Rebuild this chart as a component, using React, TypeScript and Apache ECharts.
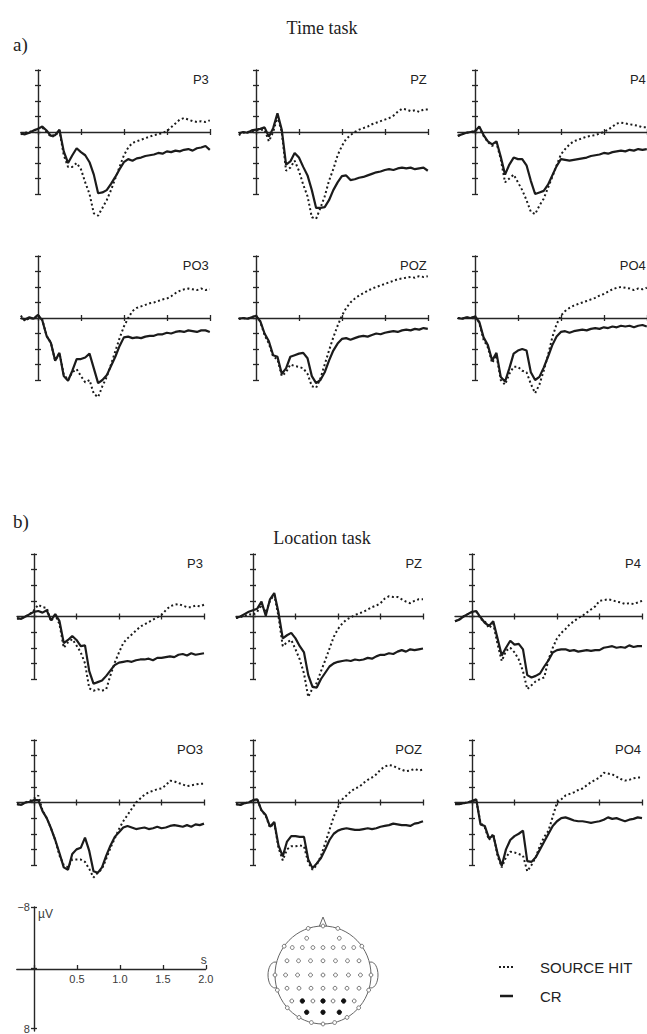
import React, { useEffect, useRef } from "react";
import * as echarts from "echarts";

// time points (s)
const TIME = [-0.2,-0.15,-0.1,-0.05,0,0.05,0.1,0.15,0.2,0.25,0.3,0.35,0.4,0.45,0.5,0.55,0.6,0.65,0.7,0.75,0.8,0.85,0.9,0.95,1.0,1.05,1.1,1.15,1.2,1.25,1.3,1.35,1.4,1.45,1.5,1.55,1.6,1.65,1.7,1.75,1.8,1.85,1.9,1.95,2.0];
const CHANNELS = ["P3", "PZ", "P4", "PO3", "POZ", "PO4"];
const SERIES_NAMES = ["SOURCE HIT", "CR"];

// Time task (µV, negative up)
const TIME_P3_CR = [0.2,0.3,0.1,-0.2,-0.4,-0.7,-0.2,0.5,0.4,-0.3,2.5,4.0,3.0,2.1,2.6,3.0,3.9,5.5,7.9,7.8,7.5,6.7,5.8,4.8,3.9,3.5,3.7,3.4,3.3,3.1,3.0,2.9,2.7,2.8,2.5,2.6,2.4,2.5,2.3,2.2,2.4,2.1,2.0,1.8,2.3];
const TIME_P3_SH = [0.3,0.1,0.0,-0.2,-0.5,-0.6,0.0,0.6,0.5,-0.2,3.0,4.5,4.5,4.0,4.8,6.5,8.0,10.5,10.8,9.8,8.8,7.5,6.0,4.5,3.0,2.0,1.4,1.2,1.0,0.8,0.6,0.4,0.3,0.1,-0.1,-0.6,-1.1,-1.6,-1.8,-1.6,-1.4,-1.3,-1.4,-1.3,-1.5];
const TIME_PZ_CR = [0.2,0.0,0.1,-0.2,-0.3,-0.4,-0.6,0.6,-0.5,-2.4,-0.3,4.2,3.8,2.7,3.3,4.5,5.6,7.5,9.8,9.8,9.7,8.8,7.5,6.5,5.7,5.6,6.2,6.1,5.9,5.8,5.6,5.4,5.2,5.1,4.9,4.8,4.9,4.7,4.6,4.7,4.6,4.8,4.7,4.6,5.0];
const TIME_PZ_SH = [0.4,0.1,0.0,-0.1,-0.2,-0.3,-0.3,1.2,0.0,-2.0,0.0,5.0,4.6,3.7,5.0,6.8,8.3,11.0,11.2,9.8,8.3,6.3,4.8,3.0,1.8,0.9,0.4,0.0,-0.3,-0.5,-0.7,-1.0,-1.2,-1.4,-1.6,-1.8,-2.1,-2.6,-3.0,-2.9,-2.7,-2.8,-2.6,-2.9,-2.9];
const TIME_P4_CR = [0.5,0.3,0.1,0.0,-0.1,-0.7,0.4,1.2,1.6,1.2,3.2,5.5,4.2,3.3,3.5,3.5,4.3,6.3,8.0,7.8,7.6,6.8,5.6,4.4,3.5,3.6,3.7,3.6,3.5,3.4,3.3,3.1,3.0,2.9,2.7,2.8,2.6,2.5,2.4,2.5,2.3,2.4,2.2,2.3,2.2];
const TIME_P4_SH = [0.5,0.3,0.1,0.0,-0.1,-0.6,0.5,1.3,1.8,1.4,3.5,6.5,6.0,5.5,6.5,7.5,8.8,10.3,10.6,9.5,8.6,7.2,5.8,4.3,2.9,2.2,1.6,1.2,1.0,0.8,0.6,0.5,0.4,0.2,0.0,-0.3,-0.7,-1.1,-1.2,-1.1,-1.0,-0.9,-0.8,-0.6,-0.6];
const TIME_PO3_CR = [0.0,0.2,-0.1,0.1,-0.4,0.3,2.3,3.2,5.5,4.5,7.5,8.1,6.8,5.3,5.3,5.1,4.6,6.5,8.4,8.0,7.4,6.2,5.0,3.6,2.5,2.4,2.6,2.5,2.6,2.4,2.3,2.3,2.1,2.1,1.9,2.0,1.8,1.7,1.8,1.6,1.7,1.8,1.6,1.6,1.8];
const TIME_PO3_SH = [-0.3,0.4,0.0,0.1,-0.4,0.2,2.3,3.2,5.5,4.5,7.3,8.0,7.0,6.6,7.5,8.3,8.0,9.8,10.2,8.8,7.6,6.0,4.3,2.6,1.1,0.0,-0.9,-1.3,-1.5,-1.7,-1.9,-2.0,-2.2,-2.4,-2.5,-2.8,-3.2,-3.5,-3.7,-3.8,-3.7,-3.6,-3.8,-3.6,-3.7];
const TIME_POZ_CR = [0.1,0.0,0.1,-0.1,-0.3,0.4,2.0,3.0,4.8,5.0,7.2,6.5,5.0,4.8,4.6,4.5,5.2,7.5,8.4,8.0,7.0,5.5,4.2,3.3,2.7,2.6,2.8,2.6,2.4,2.3,2.4,2.2,2.0,2.1,1.9,1.8,1.7,1.8,1.6,1.5,1.6,1.4,1.5,1.3,1.4];
const TIME_POZ_SH = [0.1,0.0,0.1,-0.1,-0.3,0.5,2.2,3.3,5.0,5.3,7.5,7.0,6.0,6.2,6.3,6.5,7.2,8.8,9.0,7.8,6.0,4.2,2.5,1.0,-0.3,-1.3,-2.0,-2.5,-2.9,-3.2,-3.5,-3.8,-4.0,-4.2,-4.4,-4.6,-4.8,-5.0,-5.1,-5.2,-5.3,-5.2,-5.4,-5.3,-5.4];
const TIME_PO4_CR = [0.0,0.1,-0.1,0.0,-0.2,0.5,2.5,3.5,5.5,4.5,7.6,8.2,6.5,4.6,4.2,4.0,4.2,7.0,8.0,7.6,6.4,5.0,3.5,2.4,1.8,1.7,1.9,1.7,1.6,1.5,1.6,1.4,1.3,1.4,1.2,1.3,1.1,1.2,1.0,1.1,1.0,1.2,1.0,0.9,1.1];
const TIME_PO4_SH = [0.0,0.1,-0.1,0.0,-0.2,0.6,2.8,3.8,5.8,4.8,8.0,8.6,7.2,6.3,6.3,6.8,7.0,8.5,9.7,8.6,6.8,4.8,2.5,0.8,-0.3,-0.9,-1.3,-1.6,-1.8,-2.0,-2.2,-2.4,-2.6,-2.9,-3.1,-3.4,-3.7,-3.9,-4.0,-3.9,-3.8,-3.6,-3.8,-3.7,-3.9];

// Location task
const LOC_P3_CR = [0.2,0.3,0.0,-0.3,-0.6,-0.7,-0.5,-0.8,0.5,-0.3,0.6,3.4,3.0,2.5,3.0,3.8,3.7,7.0,8.6,8.4,8.2,7.6,6.9,6.2,5.9,5.8,5.7,5.8,5.6,5.5,5.5,5.4,5.6,5.3,5.3,5.2,5.1,5.2,4.9,4.8,5.0,4.7,4.9,4.8,4.7];
const LOC_P3_SH = [0.3,0.2,0.0,-0.3,-0.8,-1.5,-1.2,-1.1,0.6,-0.2,1.0,4.0,3.3,2.9,3.7,4.6,6.0,9.2,9.5,9.3,9.5,9.3,7.5,5.9,4.6,3.4,2.8,2.3,1.8,1.3,1.0,0.7,0.4,0.1,-0.2,-0.8,-1.3,-1.5,-1.6,-1.4,-1.2,-1.2,-1.4,-1.3,-1.5];
const LOC_PZ_CR = [0.2,0.0,-0.3,-0.6,-0.8,-1.0,-1.9,-0.1,-2.2,-3.0,-0.5,2.8,2.4,2.1,2.8,3.8,4.6,7.5,9.0,9.1,8.0,7.2,6.4,6.0,5.8,5.7,5.6,5.7,5.5,5.6,5.5,5.3,5.4,5.1,4.9,4.9,4.7,4.8,4.5,4.3,4.5,4.2,4.3,4.2,4.1];
const LOC_PZ_SH = [0.2,0.1,-0.1,-0.3,-0.2,-0.6,-1.5,-0.5,-2.0,-2.8,0.0,3.8,3.3,3.0,4.2,5.5,7.3,10.3,9.2,8.5,7.0,5.6,4.1,2.6,1.6,0.9,0.4,0.1,-0.2,-0.4,-0.6,-0.9,-1.2,-1.4,-1.7,-2.3,-2.6,-2.5,-2.5,-2.2,-1.9,-1.7,-2.0,-2.2,-2.2];
const LOC_P4_CR = [0.6,0.4,0.0,-0.3,-0.6,-0.7,0.1,0.8,1.2,0.6,2.8,5.0,4.0,3.1,3.6,3.5,4.2,7.5,7.8,7.6,7.3,6.4,5.6,4.6,4.3,4.2,4.2,4.4,4.3,4.5,4.4,4.3,4.4,4.3,4.3,4.0,3.9,3.8,4.0,3.9,4.0,3.7,3.9,3.8,3.8];
const LOC_P4_SH = [0.6,0.4,0.0,-0.3,-0.5,-0.6,0.3,0.6,1.5,0.9,3.5,5.7,4.4,4.0,4.6,5.5,7.0,9.3,8.8,8.3,8.0,7.8,5.5,4.0,2.8,2.1,1.6,1.0,0.6,0.2,-0.1,-0.5,-0.9,-1.3,-2.0,-2.1,-2.2,-2.1,-1.9,-1.8,-1.6,-1.7,-1.6,-1.8,-2.0];
const LOC_PO3_CR = [0.2,0.3,0.0,-0.1,-0.3,-0.3,1.1,2.0,3.3,4.8,6.5,8.3,8.6,6.6,6.0,5.8,4.5,6.2,8.8,9.0,8.3,6.8,5.5,4.4,3.8,3.2,3.0,3.2,3.4,3.3,3.2,3.4,3.3,3.1,3.3,3.2,3.0,2.9,3.0,3.1,2.9,3.1,2.8,2.9,2.7];
const LOC_PO3_SH = [0.2,0.3,0.0,-0.2,-0.5,-0.9,1.0,2.0,3.3,4.8,6.8,8.0,8.3,7.3,7.3,7.3,7.6,8.5,9.6,9.0,8.5,7.2,5.8,4.6,3.4,2.4,1.6,0.8,0.0,-0.5,-1.0,-1.3,-1.5,-1.7,-1.8,-2.2,-2.8,-2.7,-2.5,-2.3,-2.1,-2.2,-2.3,-2.4,-2.4];
const LOC_POZ_CR = [0.2,0.3,0.1,0.0,-0.3,-0.4,1.0,1.6,3.1,2.5,5.5,6.9,5.0,4.3,4.3,4.4,4.4,7.3,8.4,7.8,7.1,6.0,4.8,4.0,3.6,3.4,3.3,3.4,3.5,3.5,3.4,3.3,3.4,3.3,3.1,3.0,2.9,2.7,2.8,2.9,2.9,3.0,2.7,2.6,2.4];
const LOC_POZ_SH = [0.2,0.3,0.1,0.0,-0.3,-0.4,1.0,1.7,3.2,2.6,5.8,7.4,6.0,5.6,5.6,5.5,5.6,7.7,8.6,8.0,6.8,5.2,3.5,1.8,0.6,-0.4,-0.9,-1.4,-1.8,-2.0,-2.5,-2.9,-3.2,-3.6,-4.2,-4.6,-4.8,-4.7,-4.4,-4.2,-4.0,-4.1,-4.3,-4.1,-4.2];
const LOC_PO4_CR = [0.2,0.2,0.1,0.0,-0.2,-0.4,2.8,3.0,4.6,4.2,6.5,8.1,6.0,4.8,4.3,4.0,3.6,7.5,7.6,7.0,6.0,5.0,4.0,3.0,2.4,2.0,1.9,2.1,2.3,2.4,2.4,2.5,2.6,2.5,2.4,2.2,1.9,2.1,2.0,2.2,2.4,2.2,2.1,1.9,2.0];
const LOC_PO4_SH = [0.2,0.2,0.1,0.0,-0.2,-0.3,2.6,3.2,4.8,4.0,6.8,8.3,7.0,6.3,6.4,6.6,6.8,8.8,8.0,7.0,5.5,4.4,3.6,1.8,0.0,-0.4,-0.9,-1.1,-1.3,-1.6,-1.8,-2.2,-2.6,-2.9,-3.2,-3.8,-3.7,-3.6,-3.3,-3.0,-2.8,-2.9,-3.1,-3.2,-3.2];

const TIME_SH = [TIME_P3_SH, TIME_PZ_SH, TIME_P4_SH, TIME_PO3_SH, TIME_POZ_SH, TIME_PO4_SH];
const TIME_CR = [TIME_P3_CR, TIME_PZ_CR, TIME_P4_CR, TIME_PO3_CR, TIME_POZ_CR, TIME_PO4_CR];
const LOC_SH = [LOC_P3_SH, LOC_PZ_SH, LOC_P4_SH, LOC_PO3_SH, LOC_POZ_SH, LOC_PO4_SH];
const LOC_CR = [LOC_P3_CR, LOC_PZ_CR, LOC_P4_CR, LOC_PO3_CR, LOC_POZ_CR, LOC_PO4_CR];

// Electrode layout (normalized head coords)
const ELEC_OPEN: number[][] = [
  [-0.34, -0.75], [0.34, -0.75],
  [-0.64, -0.56], [-0.43, -0.56], [-0.21, -0.56], [0, -0.56], [0.21, -0.56], [0.43, -0.56], [0.64, -0.56],
  [-0.75, -0.29], [-0.51, -0.29], [-0.26, -0.29], [0, -0.29], [0.26, -0.29], [0.51, -0.29], [0.75, -0.29],
  [-0.78, 0], [-0.53, 0], [-0.26, 0], [0, 0], [0.26, 0], [0.53, 0], [0.78, 0],
  [-0.75, 0.27], [-0.5, 0.27], [-0.25, 0.27], [0, 0.27], [0.25, 0.27], [0.5, 0.27], [0.75, 0.27],
  [-0.65, 0.53], [-0.21, 0.53], [0.21, 0.53], [0.65, 0.53],
];
const ELEC_FILLED: number[][] = [
  [-0.43, 0.53], [0, 0.53], [0.43, 0.53],
  [-0.34, 0.76], [0, 0.76], [0.34, 0.76],
];
const PERIM_ANGLES = [-90, -72, -36, 0, 18, 42, 60, 76, 90, 104, 120, 138, 162, 180, 216, 252];

const BLACK = "#1b1b1b";
const AXIS = "#262626";
const LABEL = "#3a3a3a";

function buildOption() {
  const grids: any[] = [];
  const xAxes: any[] = [];
  const yAxes: any[] = [];
  const series: any[] = [];
  const graphics: any[] = [];

  const lineSt = { color: AXIS, width: 1.4 };
  const tickSt = { color: AXIS, width: 1.3 };
  const labelFont = { fontFamily: "Liberation Sans", fontSize: 11, color: LABEL };

  const emptySeries = (xi: number, yi: number) =>
    series.push({ type: "line", xAxisIndex: xi, yAxisIndex: yi, data: [], silent: true });

  const addPanel = (left: number, top: number, w: number, h: number, isScale: boolean) => {
    const pxPerS = w / 2.2;
    const y0x = left + 0.2 * pxPerS;
    const zeroY = top + h / 2;

    // main grid: series + axis lines (moved onto the zero positions)
    const gm = grids.length;
    grids.push({ left, top, width: w, height: h });
    const xi = xAxes.length;
    xAxes.push({
      type: "value", gridIndex: gm, min: -0.2, max: 2.0, position: "bottom", offset: -h / 2,
      axisLine: { show: true, onZero: false, lineStyle: lineSt },
      axisTick: { show: false }, axisLabel: { show: false }, splitLine: { show: false },
    });
    const yi = yAxes.length;
    yAxes.push({
      type: "value", gridIndex: gm, min: -8, max: 8, inverse: true, position: "left", offset: -0.2 * pxPerS,
      axisLine: { show: true, onZero: false, lineStyle: lineSt },
      axisTick: { show: false }, axisLabel: { show: false }, splitLine: { show: false },
    });

    // x tick strip: 0..2 s, split lines act as cross ticks
    const gx = grids.length;
    const stripH = isScale ? 4 : 6;
    grids.push({ left: y0x, top: isScale ? zeroY - 4 : zeroY - 3, width: 2 * pxPerS, height: stripH });
    const xti = xAxes.length;
    xAxes.push({
      type: "value", gridIndex: gx, min: 0, max: 2.0, interval: 0.5, position: "bottom",
      axisLine: { show: false, onZero: false }, axisTick: { show: false },
      splitLine: { show: true, lineStyle: tickSt },
      axisLabel: isScale
        ? { show: true, formatter: (v: number) => (v === 0 ? "" : v.toFixed(1)), ...labelFont, margin: 4 }
        : { show: false },
      ...(isScale
        ? { name: "s", nameLocation: "end", nameGap: -5, nameTextStyle: { fontFamily: "Liberation Sans", fontSize: 12, color: LABEL, verticalAlign: "bottom", padding: [0, 0, 3, 0] } }
        : {}),
    });
    const yti = yAxes.length;
    yAxes.push({ type: "value", gridIndex: gx, min: 0, max: 1, show: false });
    emptySeries(xti, yti);

    // y tick strip
    const gy = grids.length;
    grids.push({ left: y0x - 3, top, width: 6, height: h });
    const xyi = xAxes.length;
    xAxes.push({ type: "value", gridIndex: gy, min: 0, max: 1, show: false });
    const yyi = yAxes.length;
    yAxes.push({
      type: "value", gridIndex: gy, min: -8, max: 8, interval: isScale ? 8 : 2, inverse: true, position: "left",
      axisLine: { show: false, onZero: false }, axisTick: { show: false },
      splitLine: { show: true, lineStyle: tickSt },
      axisLabel: isScale
        ? { show: true, formatter: (v: number) => (v === 0 ? "" : v < 0 ? "\u22128" : "8"), ...labelFont, margin: 1 }
        : { show: false },
    });
    emptySeries(xyi, yyi);

    return { xi, yi, y0x };
  };

  const layouts = [
    { cols: [20.8, 238.8, 457.8], rows: [70, 256], w: 189, h: 124, sh: TIME_SH, cr: TIME_CR },
    { cols: [17, 236, 455], rows: [554, 740], w: 187, h: 125, sh: LOC_SH, cr: LOC_CR },
  ];

  layouts.forEach((L) => {
    CHANNELS.forEach((ch, k) => {
      const left = L.cols[k % 3];
      const top = L.rows[Math.floor(k / 3)];
      const { xi, yi } = addPanel(left, top, L.w, L.h, false);
      const sh = L.sh[k];
      const cr = L.cr[k];
      series.push({
        name: SERIES_NAMES[0], type: "line", xAxisIndex: xi, yAxisIndex: yi,
        data: TIME.map((t, i) => [t, sh[i]]), showSymbol: false, symbol: "none", clip: false, silent: true,
        lineStyle: { color: BLACK, width: 2, type: [2, 2.6] }, z: 3,
      });
      series.push({
        name: SERIES_NAMES[1], type: "line", xAxisIndex: xi, yAxisIndex: yi,
        data: TIME.map((t, i) => [t, cr[i]]), showSymbol: false, symbol: "none", clip: false, silent: true,
        lineStyle: { color: BLACK, width: 2.2 }, z: 4,
      });
      graphics.push({
        type: "text", x: left + L.w - 1, y: top + 3,
        style: { text: ch, textAlign: "right", textVerticalAlign: "top", font: '13px "Liberation Sans"', fill: "#222" },
      });
    });
  });

  // scale panel
  const sLeft = 16.8, sTop = 907, sW = 189, sH = 124;
  const sc = addPanel(sLeft, sTop, sW, sH, true);
  emptySeries(sc.xi, sc.yi);
  graphics.push({ type: "text", x: sc.y0x + 4, y: sTop + 1, style: { text: "\u00b5V", textAlign: "left", textVerticalAlign: "top", font: '12px "Liberation Sans"', fill: LABEL } });

  // titles
  graphics.push({ type: "text", x: 322, y: 28, style: { text: "Time task", textAlign: "center", textVerticalAlign: "middle", font: '18px "Liberation Serif"', fill: "#222" } });
  graphics.push({ type: "text", x: 13, y: 44, style: { text: "a)", textAlign: "left", textVerticalAlign: "middle", font: '19px "Liberation Serif"', fill: "#222" } });
  graphics.push({ type: "text", x: 322, y: 538, style: { text: "Location task", textAlign: "center", textVerticalAlign: "middle", font: '18px "Liberation Serif"', fill: "#222" } });
  graphics.push({ type: "text", x: 13, y: 521, style: { text: "b)", textAlign: "left", textVerticalAlign: "middle", font: '19px "Liberation Serif"', fill: "#222" } });

  // head
  const cx = 323, cy = 975, rx = 48, ry = 49;
  const stroke = "#666";
  graphics.push({ type: "ellipse", shape: { cx: cx - rx, cy, rx: 7, ry: 13 }, style: { fill: "#fff", stroke, lineWidth: 1 } });
  graphics.push({ type: "ellipse", shape: { cx: cx + rx, cy, rx: 7, ry: 13 }, style: { fill: "#fff", stroke, lineWidth: 1 } });
  graphics.push({ type: "polyline", shape: { points: [[cx - 4, cy - ry + 1], [cx, cy - ry - 9], [cx + 4, cy - ry + 1]] }, style: { fill: "none", stroke, lineWidth: 1 } });
  graphics.push({ type: "ellipse", shape: { cx, cy, rx, ry }, style: { fill: "#fff", stroke, lineWidth: 1 } });
  PERIM_ANGLES.forEach((a) => {
    const r = (a * Math.PI) / 180;
    graphics.push({ type: "circle", shape: { cx: cx + rx * Math.cos(r), cy: cy + ry * Math.sin(r), r: 1.9 }, style: { fill: "#fff", stroke, lineWidth: 0.9 } });
  });
  ELEC_OPEN.forEach(([u, v]) => {
    graphics.push({ type: "circle", shape: { cx: cx + u * rx, cy: cy + v * ry, r: 1.9 }, style: { fill: "#fff", stroke, lineWidth: 0.9 } });
  });
  ELEC_FILLED.forEach(([u, v]) => {
    graphics.push({ type: "circle", shape: { cx: cx + u * rx, cy: cy + v * ry, r: 2.2 }, style: { fill: "#111", stroke: "#111", lineWidth: 0.9 } });
  });

  // legend
  graphics.push({ type: "line", shape: { x1: 499, y1: 967, x2: 515, y2: 967 }, style: { stroke: BLACK, lineWidth: 2, lineDash: [2, 2] } });
  graphics.push({ type: "text", x: 540, y: 967, style: { text: SERIES_NAMES[0], textAlign: "left", textVerticalAlign: "middle", font: '15px "Liberation Sans"', fill: "#222" } });
  graphics.push({ type: "line", shape: { x1: 500, y1: 996, x2: 513, y2: 996 }, style: { stroke: BLACK, lineWidth: 2.5 } });
  graphics.push({ type: "text", x: 540, y: 996, style: { text: SERIES_NAMES[1], textAlign: "left", textVerticalAlign: "middle", font: '15px "Liberation Sans"', fill: "#222" } });

  return {
    animation: false,
    backgroundColor: "#fff",
    textStyle: { fontFamily: "Liberation Sans" },
    grid: grids,
    xAxis: xAxes,
    yAxis: yAxes,
    series,
    graphic: { elements: graphics },
  };
}

export default function App() {
  const ref = useRef<HTMLDivElement>(null);
  useEffect(() => {
    if (!ref.current) return;
    const chart = echarts.init(ref.current, undefined, { renderer: "svg" });
    chart.setOption(buildOption() as any);
    return () => chart.dispose();
  }, []);
  return <div ref={ref} style={{ position: "fixed", left: 0, top: 0, width: 647, height: 1034, background: "#fff" }} />;
}
